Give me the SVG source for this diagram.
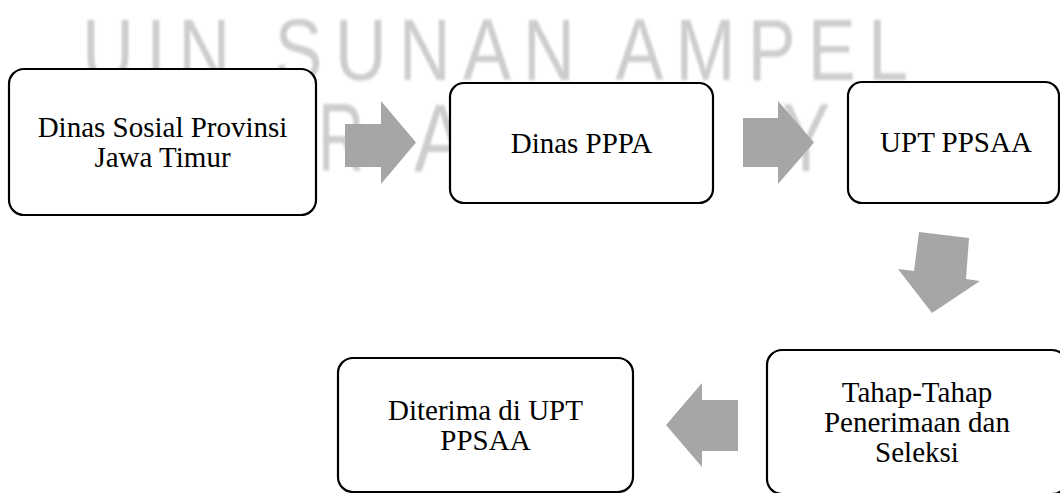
<svg xmlns="http://www.w3.org/2000/svg" width="1060" height="493" viewBox="0 0 1060 493">
  <defs>
    <style>
      .wm { font-family: "Liberation Sans", "DejaVu Sans", sans-serif; fill: #cdcdcd; filter: url(#soft); }
      .box { fill: #ffffff; stroke: #000000; stroke-width: 2.2; }
      .lbl { font-family: "Liberation Serif", "Times New Roman", serif; font-size: 29px; fill: #000000; text-anchor: middle; }
      .arr { fill: #a6a6a6; stroke: none; }
    </style>
    <filter id="soft" x="-5%" y="-5%" width="110%" height="110%">
      <feGaussianBlur stdDeviation="1.3"/>
    </filter>
  </defs>
  <rect x="0" y="0" width="1060" height="493" fill="#ffffff"/>

  <g id="watermark">
    <text class="wm" transform="translate(82,80) scale(1,1.2)" x="0" y="0" font-size="72" textLength="826" lengthAdjust="spacing">UIN SUNAN AMPEL</text>
    <text class="wm" transform="translate(318,171) scale(1,1.2)" x="0" y="0" font-size="80" textLength="46" lengthAdjust="spacingAndGlyphs">R</text>
    <text class="wm" transform="translate(414,171) scale(1,1.2)" x="0" y="0" font-size="80" textLength="52" lengthAdjust="spacingAndGlyphs">A</text>
    <text class="wm" transform="translate(782,171) scale(1,1.2)" x="0" y="0" font-size="80" textLength="48" lengthAdjust="spacingAndGlyphs">Y</text>
  </g>

  <g id="connectors">
    <polygon class="arr" points="345,124 381,124 381,101 416,142.5 381,184 381,167 345,167"/>
    <polygon class="arr" points="743,118 778,118 778,101 814,142.5 778,184 778,167 743,167"/>
    <polygon class="arr" points="919,232 969,238 966,279 980,281 932,313 898,269 914,271"/>
    <polygon class="arr" points="738,400 702,400 702,383 666,425 702,467 702,451 738,451"/>
  </g>

  <g id="node-dinsos">
    <rect class="box" x="9" y="69" width="307" height="146" rx="15" ry="15"/>
    <text class="lbl" x="162.5" y="137">Dinas Sosial Provinsi</text>
    <text class="lbl" x="162.5" y="166.5">Jawa Timur</text>
  </g>

  <g id="node-pppa">
    <rect class="box" x="450" y="83" width="263" height="120" rx="14" ry="14"/>
    <text class="lbl" x="581.5" y="152.5">Dinas PPPA</text>
  </g>

  <g id="node-upt">
    <rect class="box" x="848" y="82" width="211" height="121" rx="14" ry="14"/>
    <text class="lbl" x="956" y="152">UPT PPSAA</text>
  </g>

  <g id="node-tahap">
    <rect class="box" x="767" y="350" width="300" height="144" rx="15" ry="15"/>
    <text class="lbl" x="917" y="401.5">Tahap-Tahap</text>
    <text class="lbl" x="917" y="431.5">Penerimaan dan</text>
    <text class="lbl" x="917" y="461.5">Seleksi</text>
  </g>

  <g id="node-diterima">
    <rect class="box" x="338" y="358" width="295" height="134" rx="15" ry="15"/>
    <text class="lbl" x="485.5" y="420">Diterima di UPT</text>
    <text class="lbl" x="485.5" y="449.5">PPSAA</text>
  </g>
</svg>
